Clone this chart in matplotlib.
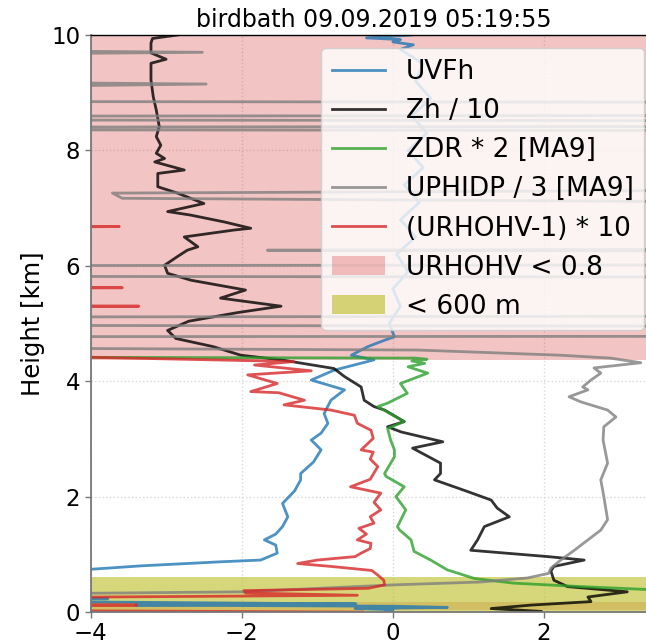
import matplotlib
matplotlib.use("Agg")
import matplotlib.pyplot as plt
from matplotlib.patches import Patch

# ---------------------------------------------------------------- profiles
# UVFh (blue)
uvfh_km = [0.00, 0.02, 0.04, 0.06, 0.08, 0.10, 0.12, 0.14, 0.17, 0.19, 0.21, 0.23,
           0.25, 0.70, 0.74, 0.80, 0.87, 0.90, 1.02, 1.16, 1.25, 1.35, 1.48, 1.65,
           1.88, 2.10, 2.29, 2.40, 2.60, 2.81, 2.98, 3.10, 3.27, 3.44, 3.67, 3.85,
           4.02, 4.19, 4.37, 4.45, 4.54, 4.60, 4.71, 4.77, 5.00, 5.30, 5.60, 5.90,
           6.20, 6.50, 6.80, 7.10, 7.40, 7.70, 8.00, 8.30, 8.60, 8.90, 9.20, 9.50,
           9.75, 9.83, 9.88, 9.92, 9.95, 10.0]
uvfh_val = [0.00, -0.10, 0.00, -0.50, 0.72, 0.00, -3.40, -0.49, -3.60, -6.0, -6.0, -3.77,
            -6.0, -6.0, -4.00, -3.33, -2.28, -1.75, -1.53, -1.55, -1.70, -1.55, -1.46, -1.39,
            -1.46, -1.30, -1.22, -1.22, -1.05, -0.95, -1.08, -0.95, -0.86, -0.91, -0.82, -0.64,
            -1.08, -0.78, -0.25, -0.55, -0.42, -0.33, -0.11, 0.02, -0.05, 0.10, 0.00, 0.20,
            0.05, 0.30, 0.10, 0.35, 0.15, 0.40, 0.20, 0.45, 0.25, 0.50, 0.30, 0.40,
            0.10, 0.27, 0.00, 0.10, -0.35, 0.25]

# Zh / 10 (black)
zh_km = [0.01, 0.06, 0.12, 0.18, 0.26, 0.35, 0.44, 0.55, 0.71, 0.79, 0.90, 0.96,
         1.07, 1.25, 1.48, 1.65, 1.80, 1.94, 2.11, 2.29, 2.40, 2.58, 2.84, 2.95,
         3.12, 3.21, 3.30, 3.50, 3.56, 3.67, 3.90, 4.08, 4.22, 4.37, 4.45, 4.60,
         4.74, 4.88, 5.04, 5.19, 5.30, 5.44, 5.58, 5.75, 5.87, 6.01, 6.16, 6.27,
         6.33, 6.50, 6.62, 6.65, 6.76, 6.88, 6.94, 7.08, 7.26, 7.37, 7.60, 7.66,
         7.80, 7.86, 7.95, 8.09, 8.24, 8.41, 8.70, 8.93, 9.22, 9.51, 9.58, 9.69,
         9.86, 9.94, 10.0]
zh_val = [1.96, 1.30, 1.83, 2.62, 2.58, 3.10, 2.31, 2.13, 2.09, 2.13, 2.53, 2.05,
          1.03, 1.12, 1.21, 1.54, 1.38, 1.30, 0.94, 0.55, 0.63, 0.63, 0.26, 0.66,
          0.11, -0.07, 0.15, -0.11, -0.25, -0.38, -0.42, -0.64, -0.78, -1.48, -2.01, -2.38,
          -2.87, -2.98, -2.70, -2.05, -1.48, -2.28, -1.95, -2.67, -2.98, -3.02, -2.85, -2.72,
          -2.58, -2.76, -2.10, -1.88, -2.23, -2.68, -2.98, -2.50, -2.85, -3.11, -3.11, -2.76,
          -3.15, -3.02, -3.13, -3.07, -3.13, -3.09, -3.13, -3.17, -3.20, -3.20, -3.00, -3.20,
          -3.20, -3.18, -2.85]

# ZDR * 2 [MA9] (green)
zdr_km = [0.00, 0.30, 0.39, 0.44, 0.50, 0.58, 0.73, 0.90, 1.05, 1.25, 1.42, 1.48,
          1.77, 2.00, 2.17, 2.35, 2.40, 2.69, 2.81, 2.98, 3.18, 3.30, 3.56, 3.62,
          3.79, 3.96, 4.14, 4.25, 4.31, 4.35, 4.38, 4.40, 4.42, 10.0]
zdr_val = [6.0, 5.0, 3.36, 2.49, 1.60, 1.08, 0.72, 0.50, 0.28, 0.24, 0.09, 0.06,
           0.17, 0.04, 0.15, -0.09, -0.11, 0.02, 0.02, -0.03, -0.07, 0.15, -0.20, -0.07,
           0.19, 0.10, 0.46, 0.20, 0.42, 0.25, 0.45, 0.30, -6.0, -6.0]

# UPHIDP / 3 [MA9] (grey)
phi_km = [0.00, 0.30, 0.35, 0.47, 0.52, 0.59, 0.67, 0.76, 0.90, 1.07, 1.25, 1.42,
          1.60, 2.00, 2.29, 2.58, 2.98, 3.21, 3.38, 3.50, 3.64, 3.73, 3.85, 3.90,
          4.02, 4.14, 4.23, 4.32, 4.40, 4.45, 4.54, 4.59, 4.77, 4.78, 4.95, 4.97,
          5.11, 5.13, 5.80, 5.82, 6.00, 6.02, 6.25, 6.27, 6.29, 7.08, 7.17, 7.26,
          7.33, 8.34, 8.36, 8.40, 8.42, 8.51, 8.53, 8.59, 8.61, 8.83, 8.85, 9.06,
          9.15, 9.21, 9.64, 9.70, 9.76, 10.0]
phi_val = [-8.0, -6.0, -1.97, 0.01, 1.16, 1.78, 2.06, 2.09, 2.22, 2.40, 2.58, 2.75,
           2.84, 2.79, 2.75, 2.84, 2.78, 2.79, 2.95, 2.84, 2.49, 2.33, 2.58, 2.51,
           2.62, 2.75, 2.66, 3.28, 2.88, 2.22, 0.33, -8.0, -8.0, 8.0, 8.0, -8.0,
           -8.0, 8.0, 8.0, -8.0, -8.0, 8.0, 8.0, -1.66, 8.0, 8.0, -3.58, -3.71,
           8.0, 8.0, -8.0, -8.0, 8.0, 8.0, -8.0, -8.0, 8.0, 8.0, -8.0, -8.0,
           -2.47, -8.0, -8.0, -2.52, -8.0, -8.0]

# (URHOHV - 1) * 10 (red)
rho_km = [0.00, 0.03, 0.10, 0.12, 0.14, 0.24, 0.29, 0.33, 0.37, 0.41, 0.47, 0.55,
          0.64, 0.72, 0.79, 0.84, 0.90, 0.96, 1.02, 1.10, 1.19, 1.25, 1.35, 1.45,
          1.54, 1.65, 1.77, 1.90, 2.06, 2.17, 2.30, 2.52, 2.65, 2.77, 2.81, 3.01,
          3.15, 3.27, 3.41, 3.50, 3.59, 3.67, 3.80, 3.82, 3.96, 4.11, 4.18, 4.28,
          4.34, 4.47, 5.28, 5.30, 5.32, 5.60, 5.62, 5.64, 6.66, 6.68, 6.70, 10.0]
rho_val = [-0.40, -6.0, -6.0, -3.39, -6.0, -6.0, -0.47, -1.95, -1.97, -0.33, -0.11, -0.12,
           -0.20, -0.28, -0.82, -1.26, -1.00, -0.50, -0.42, -0.30, -0.29, -0.47, -0.35, -0.45,
           -0.25, -0.30, -0.16, -0.25, -0.16, -0.56, -0.30, -0.20, -0.30, -0.26, -0.42, -0.26,
           -0.29, -0.47, -0.51, -0.82, -1.44, -1.17, -1.51, -1.88, -1.53, -1.92, -1.08, -1.83,
           -1.31, -6.0, -6.0, -3.36, -6.0, -6.0, -3.58, -6.0, -6.0, -3.62, -6.0, -6.0]

# height ranges flagged by low co-polar correlation, and the near-ground band
low_rho_layers = [(0.03, 0.18), (4.37, 10.0)]
near_ground = (0.0, 0.6)

title = "birdbath 09.09.2019 05:19:55"
x_ticks = [-4, -2, 0, 2]
y_ticks = [0, 2, 4, 6, 8, 10]

# ---------------------------------------------------------------- figure
fig = plt.figure(figsize=(6.46, 6.44), dpi=100)
ax = fig.add_axes([90.5 / 646, 32 / 644, 567 / 646, 577 / 644])
ax.set_axisbelow(True)
ax.grid(True, color="#d9d9d9", linestyle=":", linewidth=1.0)

pink = "#d62728"
for lo, hi in low_rho_layers:
    ax.axhspan(lo, hi, facecolor=pink, alpha=0.27, lw=0, zorder=1)
ax.axhspan(*near_ground, facecolor="#bcbd22", alpha=0.6, lw=0, zorder=1.1)

kw = dict(lw=2, alpha=0.8, zorder=2)
ax.plot(uvfh_val, uvfh_km, color="tab:blue", label="UVFh", **kw)
ax.plot(zh_val, zh_km, color="black", label="Zh / 10", **kw)
ax.plot(zdr_val, zdr_km, color="tab:green", label="ZDR * 2 [MA9]", **kw)
ax.plot(phi_val, phi_km, color="tab:gray", label="UPHIDP / 3 [MA9]", **kw)
ax.plot(rho_val, rho_km, color="tab:red", label="(URHOHV-1) * 10", **kw)

handles, labels = ax.get_legend_handles_labels()
handles += [Patch(facecolor=pink, alpha=0.27, lw=0),
            Patch(facecolor="#bcbd22", alpha=0.6, lw=0)]
labels += ["URHOHV < 0.8", "< 600 m"]
ax.legend(handles, labels, loc="upper right", fontsize=19)

ax.set_xlim(-4, 3.5)
ax.set_ylim(0, 10)
ax.set_xticks(x_ticks)
ax.set_yticks(y_ticks)
ax.tick_params(labelsize=16.5, length=4, width=1, color="#777777")
for side in ("left", "bottom"):
    ax.spines[side].set_color("#777777")
    ax.spines[side].set_linewidth(1.3)
ax.spines["top"].set_color("black")
ax.spines["top"].set_linewidth(1.0)
ax.spines["right"].set_visible(False)

ax.set_title(title, fontsize=17)
ax.set_ylabel("Height [km]", fontsize=17.5)

fig.savefig("out.png", dpi=100)
